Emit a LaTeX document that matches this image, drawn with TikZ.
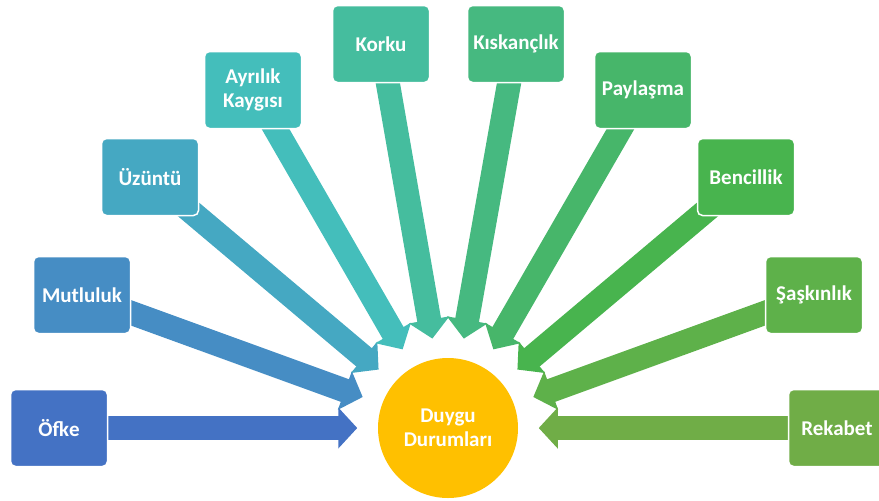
\documentclass[tikz,border=0pt]{standalone}
\usepackage{fontspec}
\setmainfont{Carlito}
\usetikzlibrary{arrows.meta,backgrounds}

\definecolor{renkA}{HTML}{4472C4}
\definecolor{renkB}{HTML}{468DC4}
\definecolor{renkC}{HTML}{45A8C2}
\definecolor{renkD}{HTML}{44BEBB}
\definecolor{renkE}{HTML}{45BD9E}
\definecolor{renkF}{HTML}{46B980}
\definecolor{renkG}{HTML}{47B66A}
\definecolor{renkH}{HTML}{48B44E}
\definecolor{renkI}{HTML}{5EB14A}
\definecolor{renkJ}{HTML}{70AD47}
\definecolor{sari}{HTML}{FFC000}

\tikzset{
  kutu/.style={draw=white, line width=0.75pt, rounded corners=2.5pt,
    minimum width=48.5pt, minimum height=38.5pt, text=white,
    font=\fontsize{10.5}{12}\selectfont\bfseries, align=center, inner sep=1pt},
  ok/.style={line width=12pt, -{Triangle[length=9.5pt,width=20pt]}, shorten >=10pt}
}

\begin{document}
\begin{tikzpicture}[x=0.5pt,y=-0.5pt]
\useasboundingbox (0,0) rectangle (879,500);
\node[kutu,fill=renkA] (ofke) at (59,428) {Öfke};
\node[kutu,fill=renkB] (mutluluk) at (82,295) {Mutluluk};
\node[kutu,fill=renkC] (uzuntu) at (150,177) {Üzüntü};
\node[kutu,fill=renkD] (ayrilik) at (253,90) {Ayrılık\\Kaygısı};
\node[kutu,fill=renkE] (korku) at (381,44) {Korku};
\node[kutu,fill=renkF] (kiskanclik) at (516,44) {Kıskançlık};
\node[kutu,fill=renkG] (paylasma) at (643,90) {Paylaşma};
\node[kutu,fill=renkH] (bencillik) at (746,177) {Bencillik};
\node[kutu,fill=renkI] (saskinlik) at (814,295) {Şaşkınlık};
\node[kutu,fill=renkJ] (rekabet) at (837,428) {Rekabet};
\node[kutu,circle,fill=sari,draw=none,minimum size=70pt] (merkez) at (448,428) {Duygu\\Durumları};
\begin{pgfonlayer}{background}
\draw[ok,renkA] (ofke.center) -- (merkez);
\draw[ok,renkB] (mutluluk.center) -- (merkez);
\draw[ok,renkC] (uzuntu.center) -- (merkez);
\draw[ok,renkD] (ayrilik.center) -- (merkez);
\draw[ok,renkE] (korku.center) -- (merkez);
\draw[ok,renkF] (kiskanclik.center) -- (merkez);
\draw[ok,renkG] (paylasma.center) -- (merkez);
\draw[ok,renkH] (bencillik.center) -- (merkez);
\draw[ok,renkI] (saskinlik.center) -- (merkez);
\draw[ok,renkJ] (rekabet.center) -- (merkez);
\end{pgfonlayer}
\end{tikzpicture}
\end{document}
